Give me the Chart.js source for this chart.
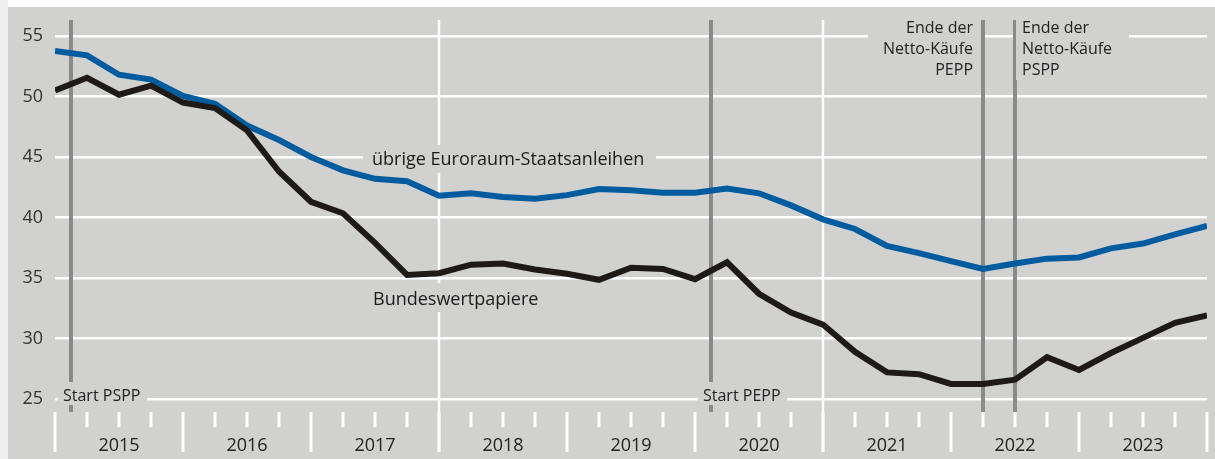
<!DOCTYPE html>
<html>
<head>
<meta charset="utf-8">
<script src="https://cdn.jsdelivr.net/npm/chart.js@4/dist/chart.umd.min.js"></script>
<style>
html,body{margin:0;padding:0;background:#efefef;}
#wrap{position:relative;width:1215px;height:459px;}
</style>
</head>
<body>
<div id="wrap"><canvas id="c" width="1215" height="459"></canvas></div>
<script>
// Quarter-end observations, Q4 2014 ... Q4 2023 (index 0..36)
const years = ['2015','2016','2017','2018','2019','2020','2021','2022','2023'];
const yTicks = [25, 30, 35, 40, 45, 50, 55];
const euroArea = [53.76, 53.4, 51.8, 51.4, 50.05, 49.4, 47.6, 46.4, 45.0, 43.9, 43.2, 43.0,
  41.8, 42.0, 41.7, 41.55, 41.85, 42.35, 42.25, 42.05, 42.05, 42.4, 42.0, 41.0,
  39.85, 39.05, 37.65, 37.05, 36.4, 35.75, 36.2, 36.6, 36.7, 37.45, 37.85, 38.6, 39.3];
const bund = [50.5, 51.55, 50.15, 50.9, 49.5, 49.05, 47.2, 43.8, 41.3, 40.35, 37.9, 35.25,
  35.4, 36.1, 36.2, 35.7, 35.35, 34.85, 35.85, 35.75, 34.9, 36.3, 33.7, 32.15,
  31.15, 28.9, 27.2, 27.05, 26.25, 26.25, 26.6, 28.45, 27.4, 28.8, 30.05, 31.3, 31.9];
const quarterIdx = euroArea.map((_, i) => i);
// event markers (position in quarter index)
const markerPos = [0.5, 20.5, 29, 30];
const markerText = [['Start PSPP'], ['Start PEPP'], ['Ende der', 'Netto-Käufe', 'PEPP'], ['Ende der', 'Netto-Käufe', 'PSPP']];
const seriesNames = ['übrige Euroraum-Staatsanleihen', 'Bundeswertpapiere'];

const BG = '#d1d1d0';
const FONT = '"Open Sans", "Noto Sans", sans-serif';
const TXT = '#222222';

const bgPlugin = {
  id: 'bg',
  beforeDraw(chart) {
    const c = chart.ctx;
    c.save();
    c.fillStyle = '#efefef';
    c.fillRect(0, 0, chart.width, chart.height);
    c.fillStyle = '#ffffff';
    c.fillRect(8, 0, chart.width - 8, 7);
    c.fillStyle = BG;
    c.fillRect(8, 7, chart.width - 8, chart.height - 7);
    c.restore();
  },
  beforeDatasetsDraw(chart) {
    const c = chart.ctx;
    const xs = chart.scales.x;
    const px = v => xs.getPixelForValue(v);
    c.save();
    // white vertical grid lines every three years
    c.strokeStyle = '#ffffff';
    c.lineWidth = 2.5;
    [12, 24].forEach(i => {
      c.beginPath(); c.moveTo(px(i), 20); c.lineTo(px(i), 452); c.stroke();
    });
    // quarter and year tick marks
    c.lineWidth = 3;
    for (let i = 0; i < quarterIdx.length; i++) {
      const x = px(quarterIdx[i]);
      c.beginPath();
      c.moveTo(x, 412);
      c.lineTo(x, i % 4 === 0 ? 452 : 427);
      c.stroke();
    }
    // event marker lines
    c.strokeStyle = '#8a8a8a';
    c.lineWidth = 4;
    markerPos.forEach(m => {
      c.beginPath(); c.moveTo(px(m), 20); c.lineTo(px(m), 412); c.stroke();
    });
    // label boxes
    c.fillStyle = BG;
    const m0 = px(markerPos[0]), m1 = px(markerPos[1]), m2 = px(markerPos[2]), m3 = px(markerPos[3]);
    c.fillRect(m0 - 13, 382, 89, 23);
    c.fillRect(m1 - 13, 382, 89, 23);
    c.fillRect(363, 145, 293, 28);
    c.fillRect(364, 283, 186, 29);
    c.fillRect(m2 - 115, 20, 113, 60);
    c.fillRect(m3 + 1, 20, 113, 60);
    // texts
    c.fillStyle = TXT;
    c.font = '16px ' + FONT;
    c.textBaseline = 'alphabetic';
    c.textAlign = 'left';
    c.fillText(markerText[0][0], m0 - 8, 400.5);
    c.fillText(markerText[1][0], m1 - 8, 400.5);
    const base = [33, 54, 75];
    c.textAlign = 'right';
    markerText[2].forEach((t, k) => c.fillText(t, m2 - 10, base[k]));
    c.textAlign = 'left';
    markerText[3].forEach((t, k) => c.fillText(t, m3 + 7, base[k]));
    c.fillStyle = '#1a1a1a';
    c.font = '500 18px ' + FONT;
    c.fillText(seriesNames[0], 372, 165);
    c.fillText(seriesNames[1], 373, 304.5);
    c.restore();
  }
};

new Chart(document.getElementById('c'), {
  type: 'line',
  data: {
    datasets: [
      {
        label: seriesNames[1],
        data: bund.map((v, i) => ({ x: quarterIdx[i], y: v })),
        borderColor: '#1d1a18',
        borderWidth: 6,
        pointRadius: 0,
        tension: 0,
        fill: false
      },
      {
        label: seriesNames[0],
        data: euroArea.map((v, i) => ({ x: quarterIdx[i], y: v })),
        borderColor: '#005c9e',
        borderWidth: 6,
        pointRadius: 0,
        tension: 0,
        fill: false
      }
    ]
  },
  options: {
    responsive: false,
    animation: false,
    events: [],
    layout: { padding: { top: 36, right: 8, bottom: 0, left: 0 } },
    plugins: { legend: { display: false }, tooltip: { enabled: false } },
    scales: {
      x: {
        type: 'linear',
        min: 0,
        max: 36,
        afterFit: s => { s.height = 60; s.paddingLeft = 0; s.paddingRight = 0; },
        afterBuildTicks: s => { s.ticks = quarterIdx.map(v => ({ value: v })); },
        grid: { display: false, drawTicks: false },
        border: { display: false },
        ticks: {
          autoSkip: false,
          maxRotation: 0,
          padding: 36,
          color: TXT,
          font: { family: FONT, size: 18 },
          callback: v => (v % 4 === 2 ? years[(v - 2) / 4] : '')
        }
      },
      y: {
        min: 25,
        max: 55,
        afterFit: s => { s.width = 55; },
        afterBuildTicks: s => { s.ticks = yTicks.map(v => ({ value: v })); },
        grid: { color: '#ffffff', lineWidth: 2.5, drawTicks: false },
        border: { display: false },
        ticks: {
          padding: 12,
          color: '#333333',
          font: { family: FONT, size: 18 }
        }
      }
    }
  },
  plugins: [bgPlugin]
});
</script>
</body>
</html>
